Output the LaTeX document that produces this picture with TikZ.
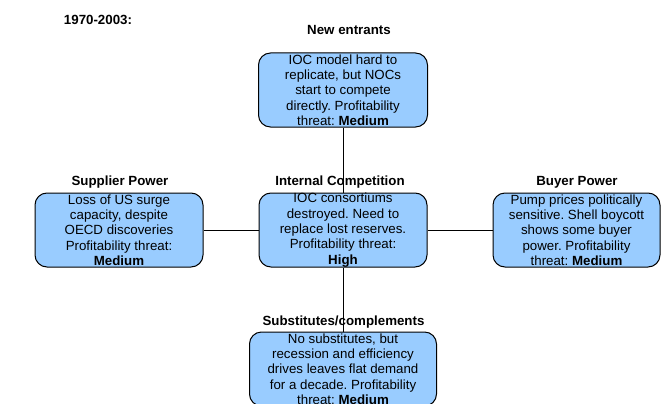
\documentclass[tikz,border=0pt]{standalone}
\usepackage{fontspec}
\setmainfont{Liberation Sans}
\frenchspacing
\definecolor{boxblue}{RGB}{153,204,255}
\begin{document}
\begin{tikzpicture}[x=1pt,y=-1pt,
  force/.style={draw=black, line width=1pt, fill=boxblue, rounded corners=12pt,
    minimum height=74pt, inner sep=0pt, align=center,
    font=\fontsize{13.3}{15.3}\selectfont},
  heading/.style={anchor=base, inner sep=0pt, font=\fontsize{13.3}{15.3}\selectfont\bfseries},
  link/.style={draw=black, line width=1pt}]
\useasboundingbox (0,0) rectangle (661,404);

% the five forces
\node[force, minimum width=169pt] (entr) at (343,90)
  {IOC model hard to\\replicate, but NOCs\\start to compete\\directly. Profitability\\threat: \textbf{Medium}};
\node[force, minimum width=168pt] (supp) at (119,230)
  {Loss of US surge\\capacity, despite\\OECD discoveries\\Profitability threat:\\\textbf{Medium}};
\node[force, minimum width=168pt] (comp) at (343,230)
  {IOC consortiums\\destroyed. Need to\\replace lost reserves.\\Profitability threat:\\\textbf{High}};
\node[force, minimum width=167pt] (buyr) at (576.5,230)
  {Pump prices politically\\sensitive. Shell boycott\\shows some buyer\\power. Profitability\\threat: \textbf{Medium}};
\node[force, minimum width=187pt] (subs) at (343,369)
  {No substitutes, but\\recession and efficiency\\drives leaves flat demand\\for a decade. Profitability\\threat: \textbf{Medium}};

% connectors
\draw[link] (entr.south) -- (comp.north);
\draw[link] (comp.south) -- (subs.north);
\draw[link] (supp.east) -- (comp.west);
\draw[link] (comp.east) -- (buyr.west);

% headings
\node[heading] (period) at (98,25) {1970-2003:};
\node[heading] (hentr) at (349,35) {New entrants};
\node[heading] (hsupp) at (120,185) {Supplier Power};
\node[heading] (hcomp) at (340,185) {Internal Competition};
\node[heading] (hbuyr) at (577,185) {Buyer Power};
\node[heading] (hsubs) at (343.5,325) {Substitutes/complements};
\end{tikzpicture}
\end{document}
